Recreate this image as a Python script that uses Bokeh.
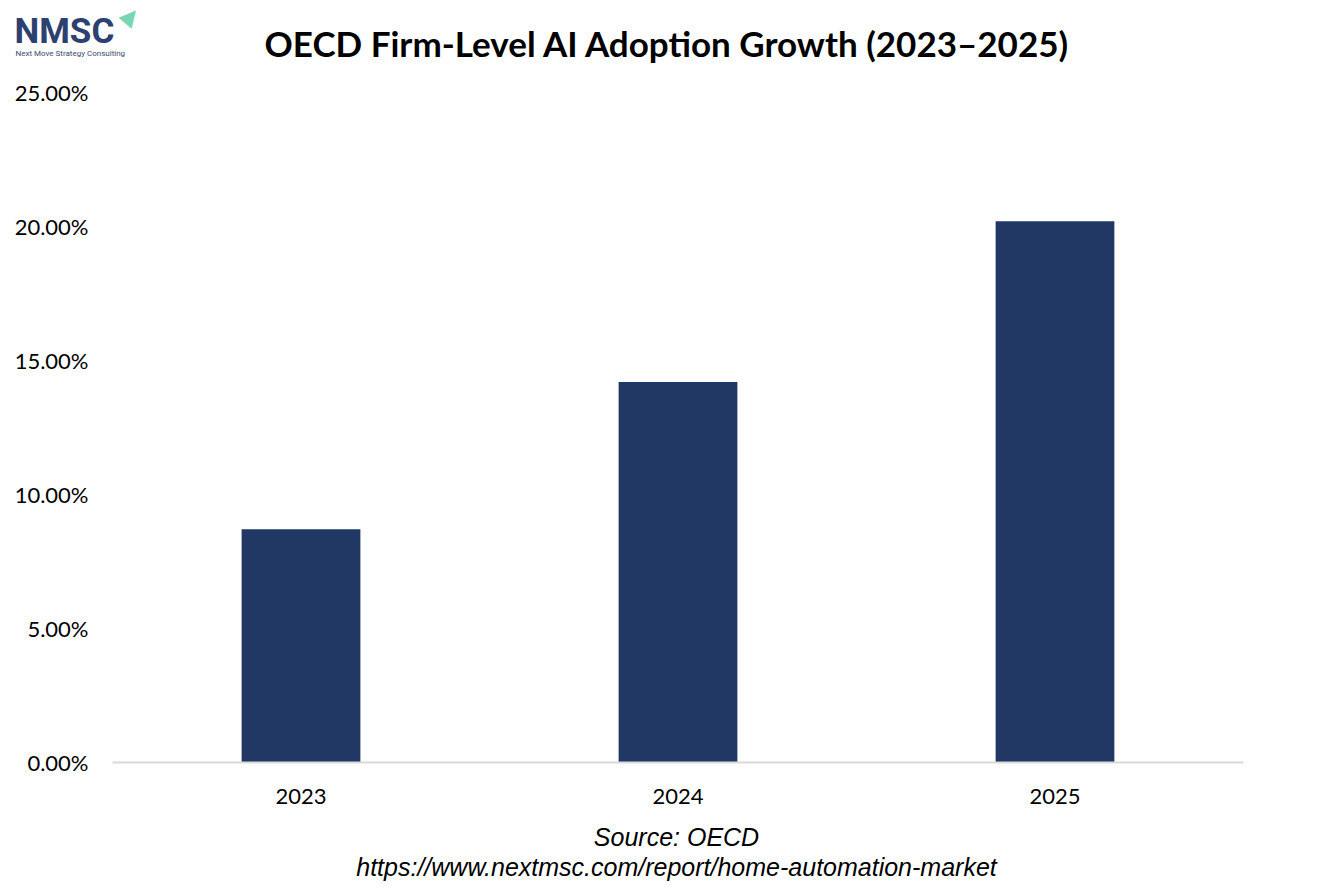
from bokeh.plotting import figure
from bokeh.layouts import column
from bokeh.models import Range1d, FactorRange, Label, ColumnDataSource, FixedTicker, CustomJSTickFormatter
from bokeh.embed import file_html
from bokeh.resources import INLINE

years = ["2023", "2024", "2025"]
adoption = [8.7, 14.2, 20.2]
y_ticks = [0, 5, 10, 15, 20, 25]

W = 1330
TOP_H, MAIN_H, BOT_H = 70, 745, 70
FL, FR, FT, FB = 112, 1243, 92, 762  # frame edges in page px


def strip(h):
    s = figure(width=W, height=h, x_range=Range1d(0, W), y_range=Range1d(h, 0),
               output_backend="svg", toolbar_location=None, min_border=0,
               x_axis_type=None, y_axis_type=None, frame_align=False)
    s.outline_line_color = None
    s.xgrid.grid_line_color = None
    s.ygrid.grid_line_color = None
    return s


# ---- header strip (logo + title) ----
top = strip(TOP_H)
top.add_layout(Label(x=667, y=42, text="OECD Firm-Level AI Adoption Growth (2023\u20132025)",
                     text_font="Lato", text_font_style="bold", text_font_size="35px",
                     text_align="center", text_baseline="middle", text_color="#000000"))
top.add_layout(Label(x=14, y=31, text="NMSC", text_font="Roboto", text_font_style="bold",
                     text_font_size="35px", text_align="left", text_baseline="middle",
                     text_color="#2c4170"))
top.add_layout(Label(x=15, y=53, text="Next Move Strategy Consulting", text_font="Roboto",
                     text_font_size="8px", text_align="left", text_baseline="middle",
                     text_color="#3b4a6e"))
top.add_layout(Label(x=131, y=15, text="\u25b2", angle=-0.7, text_font="DejaVu Sans",
                     text_font_size="22px", text_align="center", text_baseline="middle",
                     text_color="#78d6b4"))

# ---- main chart ----
p = figure(width=W, height=MAIN_H, x_range=FactorRange(*years, range_padding=0),
           y_range=Range1d(0, 25), output_backend="svg", toolbar_location=None,
           min_border_left=FL, min_border_right=W - FR, min_border_top=FT - TOP_H,
           min_border_bottom=TOP_H + MAIN_H - FB, frame_align=False)
p.outline_line_color = None
p.xgrid.grid_line_color = None
p.ygrid.grid_line_color = None

src = ColumnDataSource(dict(x=years, top=adoption))
p.vbar(x="x", top="top", width=0.315, source=src, fill_color="#213864", line_color=None)

p.yaxis.ticker = FixedTicker(ticks=y_ticks)
p.yaxis.formatter = CustomJSTickFormatter(code="return tick.toFixed(2) + '%';")
p.yaxis.axis_line_color = None
p.yaxis.major_tick_line_color = None
p.yaxis.minor_tick_line_color = None
p.yaxis.major_label_standoff = 18
p.yaxis.major_label_text_font = "Lato"
p.yaxis.major_label_text_font_size = "22px"
p.yaxis.major_label_text_color = "#000000"

p.xaxis.axis_line_color = "#d9d9d9"
p.xaxis.axis_line_width = 2
p.xaxis.major_tick_line_color = None
p.xaxis.minor_tick_line_color = None
p.xaxis.major_label_standoff = 20
p.xaxis.major_label_text_font = "Lato"
p.xaxis.major_label_text_font_size = "22px"
p.xaxis.major_label_text_color = "#000000"

# ---- footer strip (source) ----
bot = strip(BOT_H)
off = TOP_H + MAIN_H
bot.add_layout(Label(x=676, y=836 - off, text="Source: OECD",
                     text_font="Liberation Sans", text_font_style="italic", text_font_size="25px",
                     text_align="center", text_baseline="middle", text_color="#000000"))
bot.add_layout(Label(x=676, y=866 - off, text="https://www.nextmsc.com/report/home-automation-market",
                     text_font="Liberation Sans", text_font_style="italic", text_font_size="25px",
                     text_align="center", text_baseline="middle", text_color="#000000"))

page = column(top, p, bot, spacing=0)
open("out.html", "w").write(file_html(page, INLINE))
